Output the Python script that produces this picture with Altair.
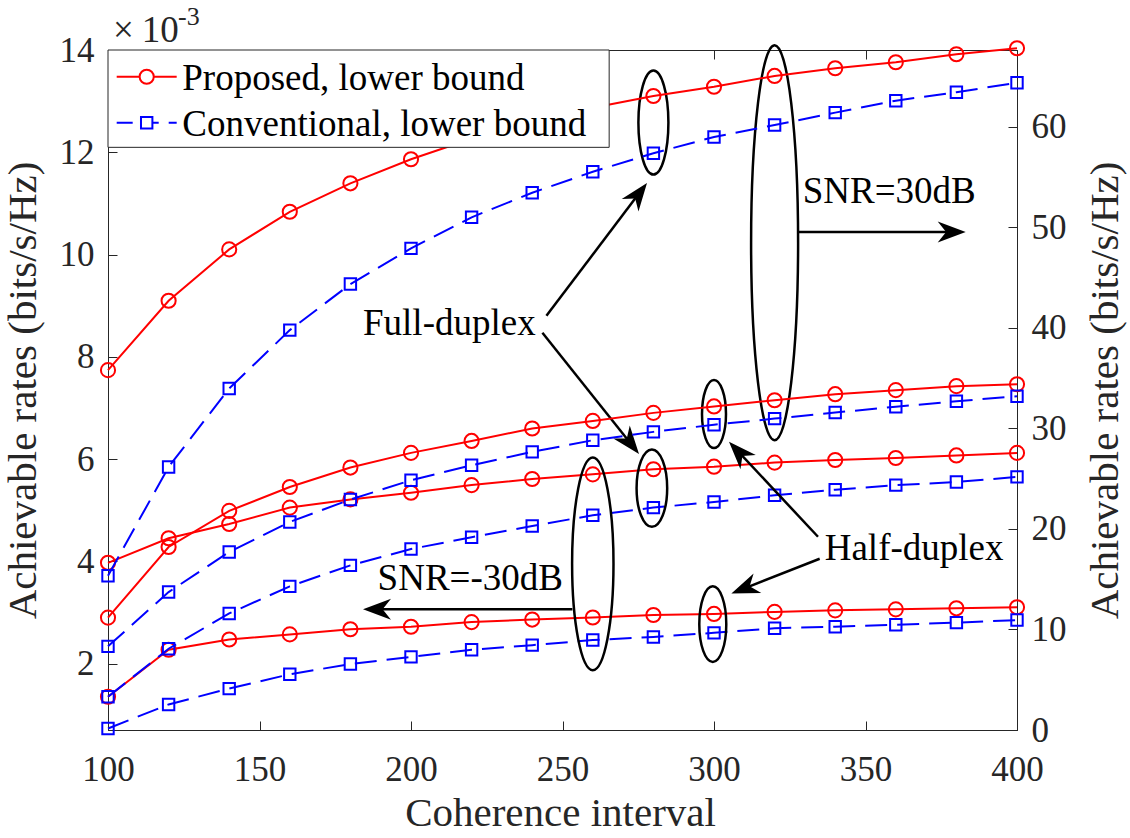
import math
import altair as alt
import pandas as pd

# ---------------- data ----------------
coherence_interval = [100, 120, 140, 160, 180, 200, 220, 240, 260, 280, 300, 320, 340, 360, 380, 400]

# SNR = 30 dB  (right axis, bits/s/Hz)
proposed_fd_30 = [35.79, 42.69, 47.80, 51.54, 54.37, 56.76, 58.80, 60.49, 61.88, 63.06, 63.98, 65.05, 65.81, 66.41, 67.21, 67.80]
conventional_fd_30 = [15.34, 26.16, 33.97, 39.77, 44.35, 47.90, 50.99, 53.43, 55.52, 57.36, 58.98, 60.17, 61.40, 62.59, 63.43, 64.38]
proposed_hd_30 = [11.18, 18.20, 21.79, 24.17, 26.10, 27.56, 28.75, 29.99, 30.74, 31.54, 32.18, 32.80, 33.40, 33.80, 34.20, 34.39]
conventional_hd_30 = [8.32, 13.72, 17.71, 20.69, 22.92, 24.84, 26.33, 27.66, 28.82, 29.65, 30.36, 30.97, 31.57, 32.15, 32.69, 33.20]

# SNR = -30 dB (left axis, x1e-3 bits/s/Hz)
proposed_fd_m30 = [3.97, 4.45, 4.73, 5.05, 5.21, 5.34, 5.49, 5.61, 5.70, 5.80, 5.85, 5.93, 5.98, 6.02, 6.07, 6.12]
conventional_fd_m30 = [1.35, 2.29, 2.98, 3.51, 3.92, 4.24, 4.47, 4.69, 4.90, 5.05, 5.16, 5.29, 5.40, 5.49, 5.55, 5.65]
proposed_hd_m30 = [1.35, 2.27, 2.47, 2.57, 2.67, 2.72, 2.81, 2.86, 2.90, 2.95, 2.97, 3.01, 3.04, 3.06, 3.08, 3.10]
conventional_hd_m30 = [0.73, 1.20, 1.51, 1.79, 1.99, 2.13, 2.27, 2.36, 2.46, 2.52, 2.60, 2.69, 2.72, 2.76, 2.80, 2.85]

x_ticks = [100, 150, 200, 250, 300, 350, 400]
left_ticks = [2, 4, 6, 8, 10, 12, 14]
right_ticks = [0, 10, 20, 30, 40, 50, 60]

legend_labels = ["Proposed, lower bound", "Conventional, lower bound"]

# annotations in data units (x, left-axis value)
annot_texts = [
    ("Full-duplex", 184.16, 8.42),
    ("SNR=30dB", 329.27, 11.01),
    ("SNR=-30dB", 188.98, 3.43),
    ("Half-duplex", 336.54, 4.02),
]
# (x_start, v_start, x_tip, v_tip)
annot_arrows = [
    (244.69, 8.80, 277.89, 11.40),
    (243.37, 8.47, 275.25, 6.10),
    (328.05, 10.44, 383.07, 10.44),
    (253.27, 3.06, 184.16, 3.06),
    (334.32, 4.48, 304.95, 6.34),
    (334.88, 4.05, 305.74, 3.37),
]
# (x_center, v_center, x-radius px, y-radius px)
annot_ellipses = [
    (280.0, 12.58, 15.0, 52.0),
    (320.0, 10.23, 23.5, 197.5),
    (300.0, 6.88, 12.0, 34.0),
    (279.5, 5.43, 15.3, 38.7),
    (260.0, 3.95, 20.7, 106.3),
    (299.6, 2.77, 13.5, 37.8),
]

# ---------------- layout / style ----------------
W, H = 909, 680
X_DOMAIN = [100, 400]
LEFT_DOMAIN = [0.70, 14]
RIGHT_DOMAIN = [0, 67.63]
FONT = "Liberation Serif"
AX = "#262626"
RED = "#FF0000"
BLUE = "#0000FF"
DASH = [22, 10]
INWARD = {"expr": "-9"}


def long_df(curves, col):
    rows = []
    for name, vals in curves.items():
        for x, y in zip(coherence_interval, vals):
            rows.append({"x": x, col: y, "curve": name})
    return pd.DataFrame(rows)


x_scale = alt.Scale(domain=X_DOMAIN, nice=False, zero=False)
left_scale = alt.Scale(domain=LEFT_DOMAIN, nice=False, zero=False)
right_scale = alt.Scale(domain=RIGHT_DOMAIN, nice=False, zero=False)

common = dict(grid=False, domainColor=AX, domainWidth=1, tickColor=AX, tickWidth=1,
              tickSize=INWARD, labelFont=FONT, labelColor=AX, titleFont=FONT,
              titleColor=AX, titleFontWeight="normal", labelFlush=False,
              labelOverlap=False, labelBound=False)

bottom_axis = alt.Axis(orient="bottom", values=x_ticks, format="d", labelFontSize=35,
                       labelPadding=31, title="Coherence interval", titleFontSize=41,
                       titleX=452, titleY=95, titleAlign="center",
                       titleBaseline="alphabetic", titleAngle=0, **common)
top_axis = alt.Axis(orient="top", values=x_ticks, labels=False, title="", **common)
left_axis = alt.Axis(orient="left", values=left_ticks, labelFontSize=35, labelPadding=23,
                     title="Achievable rates (bits/s/Hz)", titleFontSize=41,
                     titleAngle=270, titleX=-73, titleY=340, titleAlign="center",
                     titleBaseline="alphabetic", **common)
right_axis = alt.Axis(orient="right", values=right_ticks, labelFontSize=35, labelPadding=23,
                      title="Achievable rates (bits/s/Hz)", titleFontSize=41,
                      titleAngle=270, titleX=100, titleY=340, titleAlign="center",
                      titleBaseline="alphabetic", **common)

XB = alt.X("x:Q", scale=x_scale, axis=bottom_axis)
XT = alt.X("x:Q", scale=x_scale, axis=top_axis)
YL = alt.Y("v:Q", scale=left_scale, axis=left_axis)
YR = alt.Y("r:Q", scale=right_scale, axis=right_axis)

# ---------------- left group : SNR = -30 dB ----------------
left_prop = long_df({"fd": proposed_fd_m30, "hd": proposed_hd_m30}, "v")
left_conv = long_df({"fd": conventional_fd_m30, "hd": conventional_hd_m30}, "v")

l_layers = [
    alt.Chart(left_prop).mark_line(color=RED, strokeWidth=2).encode(x=XB, y=YL, detail="curve:N"),
    alt.Chart(left_prop).mark_point(shape="circle", size=200, filled=False, color=RED,
                                    strokeWidth=2, opacity=1).encode(x=XB, y=YL),
    alt.Chart(left_conv).mark_line(color=BLUE, strokeWidth=2, strokeDash=DASH).encode(x=XB, y=YL, detail="curve:N"),
    alt.Chart(left_conv).mark_point(shape="square", size=130, filled=False, color=BLUE,
                                    strokeWidth=2, opacity=1).encode(x=XB, y=YL),
]

# ellipses
for (ex, ev, rx, ry) in annot_ellipses:
    a = rx / ry
    path = f"M0,-1 A{a:.4f},1 0 1,1 0,1 A{a:.4f},1 0 1,1 0,-1 Z"
    l_layers.append(
        alt.Chart(pd.DataFrame([{"x": ex, "v": ev}])).mark_point(
            shape=path, size=(2 * ry) ** 2, filled=False, stroke="black",
            strokeWidth=2.5, opacity=1).encode(x=XB, y=YL))

# arrows
KX = W / (X_DOMAIN[1] - X_DOMAIN[0])
KY = H / (LEFT_DOMAIN[1] - LEFT_DOMAIN[0])
HEAD = 28
arrow_rows = []
for (x0, v0, x1, v1) in annot_arrows:
    dx = (x1 - x0) * KX
    dy = -(v1 - v0) * KY
    L = math.hypot(dx, dy)
    ux, uy = dx / L, dy / L
    cx = x1 - (HEAD / 2) * ux / KX
    cv = v1 + (HEAD / 2) * uy / KY
    ang = math.degrees(math.atan2(dy, dx)) % 360
    arrow_rows.append({"x": x0, "v": v0, "x2": cx, "v2": cv, "hx": cx, "hv": cv, "ang": ang})
arrow_df = pd.DataFrame(arrow_rows)

l_layers.append(alt.Chart(arrow_df).mark_rule(color="black", strokeWidth=2.5).encode(
    x=XB, y=YL, x2=alt.X2("x2:Q"), y2=alt.Y2("v2:Q")))
head_df = pd.DataFrame({"x": arrow_df["hx"], "v": arrow_df["hv"], "ang": arrow_df["ang"]})
l_layers.append(alt.Chart(head_df).mark_point(
    shape="M1,0 L-1,-0.75 L-0.4,0 L-1,0.75 Z", size=HEAD ** 2, filled=True,
    color="black", opacity=1, strokeWidth=0).encode(
    x=XB, y=YL, angle=alt.Angle("ang:Q", scale=None)))

# annotation text
text_df = pd.DataFrame([{"label": t, "x": x, "v": v} for (t, x, v) in annot_texts])
l_layers.append(alt.Chart(text_df).mark_text(
    font=FONT, fontSize=37, align="left", baseline="alphabetic", color="black").encode(
    x=XB, y=YL, text="label:N"))

# exponent "x10^-3"
exp_big = pd.DataFrame([{"label": "\u00d7", "x": 101.65, "v": 14.16},
                        {"label": "10", "x": 111.12, "v": 14.16}])
exp_small = pd.DataFrame([{"label": "-3", "x": 123.1, "v": 14.49}])
l_layers.append(alt.Chart(exp_big).mark_text(
    font=FONT, fontSize=37, align="left", baseline="alphabetic", color=AX).encode(
    x=XB, y=YL, text="label:N"))
l_layers.append(alt.Chart(exp_small).mark_text(
    font=FONT, fontSize=26, align="left", baseline="alphabetic", color=AX).encode(
    x=XB, y=YL, text="label:N"))

left_group = alt.layer(*l_layers)

# ---------------- right group : SNR = 30 dB ----------------
right_prop = long_df({"fd": proposed_fd_30, "hd": proposed_hd_30}, "r")
right_conv = long_df({"fd": conventional_fd_30, "hd": conventional_hd_30}, "r")

r_layers = [
    alt.Chart(right_prop).mark_line(color=RED, strokeWidth=2).encode(x=XT, y=YR, detail="curve:N"),
    alt.Chart(right_prop).mark_point(shape="circle", size=200, filled=False, color=RED,
                                     strokeWidth=2, opacity=1).encode(x=XT, y=YR),
    alt.Chart(right_conv).mark_line(color=BLUE, strokeWidth=2, strokeDash=DASH).encode(x=XT, y=YR, detail="curve:N"),
    alt.Chart(right_conv).mark_point(shape="square", size=130, filled=False, color=BLUE,
                                     strokeWidth=2, opacity=1).encode(x=XT, y=YR),
]

# legend (drawn on top of the curves)
legend_box = pd.DataFrame([{"x": 100, "x2": 265.4, "r": 57.95, "r2": 67.63}])
r_layers.append(alt.Chart(legend_box).mark_rect(fill="white", stroke=AX, strokeWidth=1).encode(
    x=XT, y=YR, x2=alt.X2("x2:Q"), y2=alt.Y2("r2:Q")))
leg_red = pd.DataFrame([{"x": 102.87, "x2": 122.67, "r": 64.97}])
leg_blue = pd.DataFrame([{"x": 102.87, "x2": 122.67, "r": 60.40}])
r_layers.append(alt.Chart(leg_red).mark_rule(color=RED, strokeWidth=2).encode(x=XT, x2=alt.X2("x2:Q"), y=YR))
r_layers.append(alt.Chart(leg_blue).mark_rule(color=BLUE, strokeWidth=2, strokeDash=[16, 10]).encode(x=XT, x2=alt.X2("x2:Q"), y=YR))
r_layers.append(alt.Chart(pd.DataFrame([{"x": 112.77, "r": 64.97}])).mark_point(
    shape="circle", size=200, filled=True, fill="white", stroke=RED, strokeWidth=2, opacity=1).encode(x=XT, y=YR))
r_layers.append(alt.Chart(pd.DataFrame([{"x": 112.77, "r": 60.40}])).mark_point(
    shape="square", size=130, filled=True, fill="white", stroke=BLUE, strokeWidth=2, opacity=1).encode(x=XT, y=YR))
leg_text = pd.DataFrame([{"label": legend_labels[0], "x": 124.52, "r": 63.65},
                         {"label": legend_labels[1], "x": 124.52, "r": 59.07}])
r_layers.append(alt.Chart(leg_text).mark_text(
    font=FONT, fontSize=37, align="left", baseline="alphabetic", color="black").encode(
    x=XT, y=YR, text="label:N"))

right_group = alt.layer(*r_layers)

chart = (
    alt.layer(left_group, right_group)
    .resolve_scale(y="independent")
    .resolve_axis(x="independent", y="independent")
    .properties(width=W, height=H,
                autosize=alt.AutoSizeParams(type="none"),
                padding={"left": 108, "top": 50, "right": 113, "bottom": 108},
                background="white")
    .configure_view(stroke=AX, strokeWidth=1)
)

chart.save("out.html", embed_options={"renderer": "svg", "actions": False})
